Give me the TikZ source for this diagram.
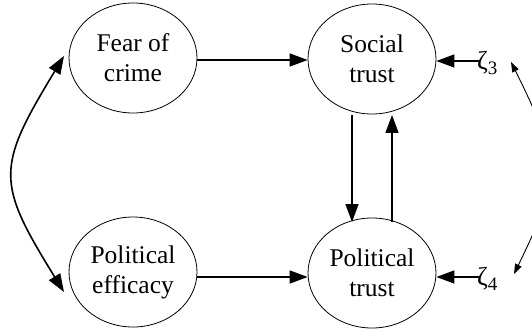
\documentclass[tikz,border=0pt]{standalone}
\usepackage{fontspec}
\setmainfont{Liberation Serif}
\usetikzlibrary{shapes.geometric,arrows.meta}
\begin{document}
\begin{tikzpicture}[x=1pt,y=-1pt,
  latent/.style={draw,ellipse,line width=0.8pt,minimum width=128pt,minimum height=110pt,inner sep=0pt,align=center,font=\fontsize{25.5}{30}\selectfont},
  path/.style={line width=1.5pt,-{Triangle[length=18pt,width=13pt]}},
  cov/.style={line width=1.6pt,{Triangle[length=18pt,width=13pt]}-{Triangle[length=18pt,width=13pt]}},
  thincov/.style={line width=0.9pt,{Triangle[length=10pt,width=7pt]}-{Triangle[length=10pt,width=7pt]}},
  err/.style={inner sep=0pt,font=\fontsize{26}{30}\selectfont}]
\useasboundingbox (0,0) rectangle (532,331);
\node[latent] (fear) at (133,58) {Fear of\\crime};
\node[latent] (eff) at (133,272) {Political\\efficacy};
\node[latent] (soc) at (372,59) {Social\\trust};
\node[latent] (pol) at (372,273) {Political\\trust};
\node[err,anchor=west] (z3) at (477,63) {ζ\raisebox{-0.35ex}{\fontsize{19}{22}\selectfont 3}};
\node[err,anchor=west] (z4) at (477,279) {ζ\raisebox{-0.35ex}{\fontsize{19}{22}\selectfont 4}};
\coordinate (z3w) at (479,61);
\coordinate (z4w) at (479,277);
\draw[path] (fear.east |- 0,60) -- (soc.west |- 0,60);
\draw[path] (eff.east |- 0,277) -- (pol.west |- 0,277);
\draw[path] (352,115) -- (352,222);
\draw[path] (392,222) -- (392,115);
\draw[path] (z3w) -- (soc.east |- z3w);
\draw[path] (z4w) -- (pol.east |- z4w);
\coordinate (lt) at (64,56);
\coordinate (lb) at (64,292);
\draw[cov] (lt) .. controls (-4,168) and (-4,182) .. (lb);
\coordinate (rt) at (511,62);
\coordinate (rb) at (514,274);
\draw[thincov] (rt) .. controls (560,160) and (560,180) .. (rb);
\end{tikzpicture}
\end{document}
